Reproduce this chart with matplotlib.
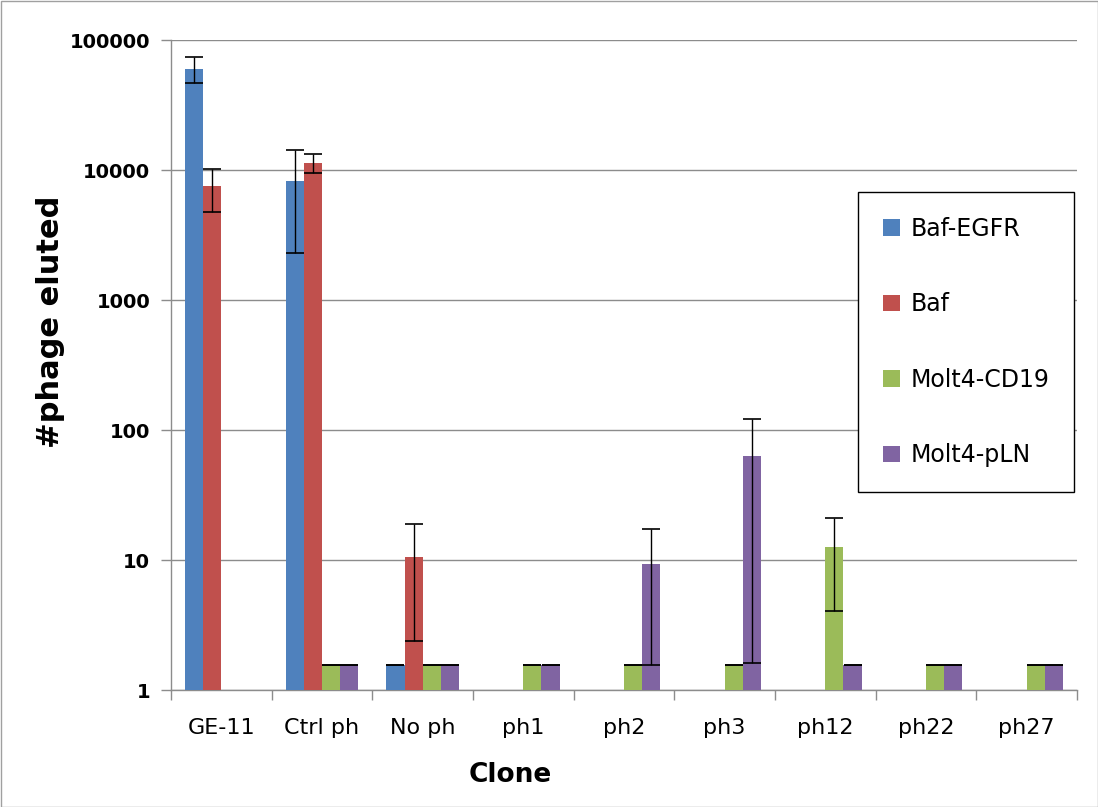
import numpy as np
import matplotlib
matplotlib.use("Agg")
import matplotlib.pyplot as plt
from matplotlib.patches import Patch, Rectangle

categories = ["GE-11", "Ctrl ph", "No ph", "ph1", "ph2", "ph3", "ph12", "ph22", "ph27"]
series = ["Baf-EGFR", "Baf", "Molt4-CD19", "Molt4-pLN"]
colors = ["#4F81BD", "#C0504D", "#9BBB59", "#8064A2"]

nan = np.nan
baf_egfr = [60000, 8200, 1.56, nan, nan, nan, nan, nan, nan]
baf = [7500, 11300, 10.6, nan, nan, nan, nan, nan, nan]
molt4_cd19 = [nan, 1.56, 1.56, 1.56, 1.56, 1.56, 12.5, 1.56, 1.56]
molt4_pln = [nan, 1.56, 1.56, 1.56, 9.35, 62.7, 1.56, 1.56, 1.56]

# error bars (lower, upper)
baf_egfr_err_lo = [13400, 5900, 0, 0, 0, 0, 0, 0, 0]
baf_egfr_err_hi = [14000, 6000, 0, 0, 0, 0, 0, 0, 0]
baf_err_lo = [2770, 1850, 8.2, 0, 0, 0, 0, 0, 0]
baf_err_hi = [2650, 1900, 8.4, 0, 0, 0, 0, 0, 0]
molt4_cd19_err_lo = [0, 0, 0, 0, 0, 0, 8.45, 0, 0]
molt4_cd19_err_hi = [0, 0, 0, 0, 0, 0, 8.7, 0, 0]
molt4_pln_err_lo = [0, 0, 0, 0, 7.8, 61.1, 0, 0, 0]
molt4_pln_err_hi = [0, 0, 0, 0, 8.0, 59.7, 0, 0, 0]

values = [baf_egfr, baf, molt4_cd19, molt4_pln]
errs = [(baf_egfr_err_lo, baf_egfr_err_hi), (baf_err_lo, baf_err_hi),
        (molt4_cd19_err_lo, molt4_cd19_err_hi), (molt4_pln_err_lo, molt4_pln_err_hi)]

fig = plt.figure(figsize=(10.98, 8.07), dpi=100)
ax = fig.add_axes([171/1098, 1-690/807, (1077-171)/1098, (690-40)/807])

x = np.arange(len(categories))
w = 0.18
for i, (vals, (lo, hi), c) in enumerate(zip(values, errs, colors)):
    pos = x + (i - 1.5) * w
    v = np.array(vals, dtype=float)
    mask = ~np.isnan(v)
    ax.bar(pos[mask], v[mask], width=w, color=c, bottom=0, zorder=3, label=series[i])
    ax.errorbar(pos[mask], v[mask], yerr=[np.array(lo)[mask], np.array(hi)[mask]],
                fmt="none", ecolor="black", elinewidth=1, capsize=6.5, capthick=1.2, zorder=4)

ax.set_yscale("log")
ax.set_ylim(1, 100000)
ax.set_xlim(-0.5, len(categories) - 0.5)
ax.set_yticks([1, 10, 100, 1000, 10000, 100000])
ax.set_yticklabels(["1", "10", "100", "1000", "10000", "100000"], fontsize=14, fontweight="bold")
ax.yaxis.set_minor_locator(matplotlib.ticker.NullLocator())
ax.grid(axis="y", color="#8c8c8c", linewidth=1, zorder=0)
ax.set_axisbelow(True)

ax.set_xticks(x)
ax.set_xticklabels(categories, fontsize=16)
ax.tick_params(axis="x", which="major", length=0, pad=20)
ax.set_xticks(np.arange(-0.5, len(categories)), minor=True)
ax.tick_params(axis="x", which="minor", length=7, color="#8c8c8c", width=1)
ax.tick_params(axis="y", which="major", length=7, color="#8c8c8c", width=1, pad=8)

for s in ["top", "right"]:
    ax.spines[s].set_visible(False)
for s in ["left", "bottom"]:
    ax.spines[s].set_color("#8c8c8c")
    ax.spines[s].set_linewidth(1)

ax.set_ylabel("#phage eluted", fontsize=22, fontweight="bold")
ax.yaxis.set_label_coords(-0.1165, (690-322)/650)
ax.set_xlabel("Clone", fontsize=19, fontweight="bold")
ax.xaxis.set_label_coords((510-171)/906, -(775-690)/650)
ax.xaxis.label.set_verticalalignment("center")

handles = [Patch(facecolor=c, edgecolor="none") for c in colors]
leg = fig.legend(handles, series, loc="upper left", bbox_to_anchor=(858/1098, 1-192/807),
                 fontsize=17, frameon=True, fancybox=False, edgecolor="black", framealpha=1,
                 handlelength=0.72, handleheight=0.72, handletextpad=0.45,
                 labelspacing=2.18, borderpad=1.05, borderaxespad=0)
leg.get_frame().set_linewidth(1.0)

fig.patches.append(Rectangle((0.5/1098, 0.5/807), 1-1/1098, 1-1/807, transform=fig.transFigure,
                             fill=False, edgecolor="#a0a0a0", linewidth=1))

fig.savefig("out.png", dpi=100)
